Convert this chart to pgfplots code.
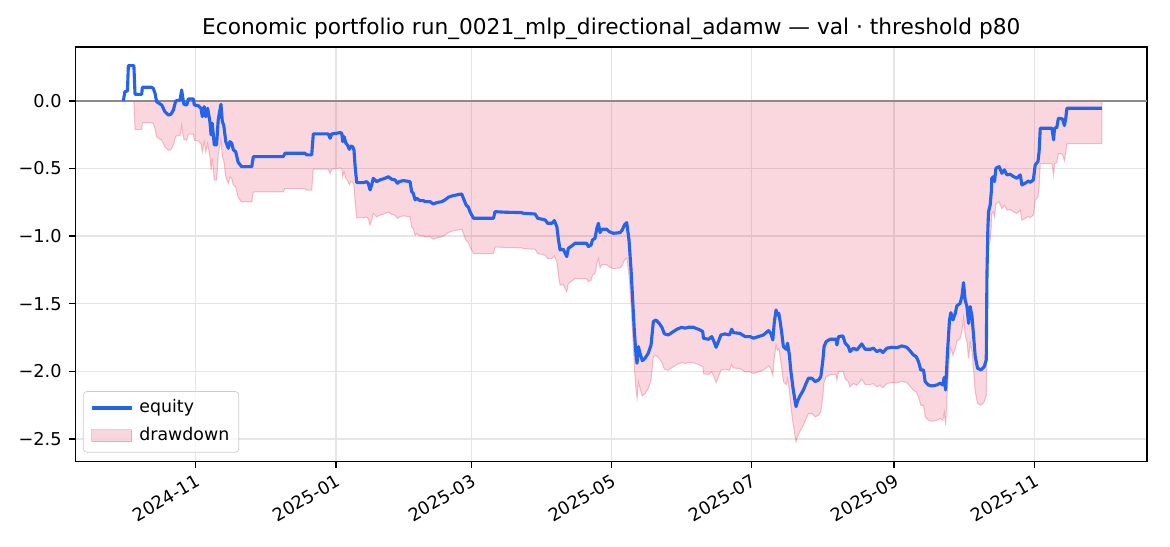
\documentclass[border=0pt]{standalone}
\usepackage{fontspec}
\setmainfont{DejaVu Sans}
\usepackage{pgfplots}
\usepackage{pgfplotstable}
\pgfplotsset{compat=1.18}

\definecolor{eqblue}{HTML}{2563EB}
\definecolor{rose}{HTML}{E11D48}

% day (0 = 2024-11-01), equity, drawdown
\pgfplotstableread{
d eq dd
-31.5 0.000 0
-30.8 0.069 0
-29.7 0.074 0
-29.3 0.261 0
-26.9 0.261 0
-26.4 0.049 -0.212
-23.5 0.049 -0.212
-23.2 0.101 -0.160
-19.2 0.101 -0.160
-18.5 0.094 -0.167
-17.7 0.057 -0.204
-17.0 -0.005 -0.266
-14.8 -0.030 -0.291
-13.4 -0.079 -0.340
-11.9 -0.104 -0.365
-10.8 -0.099 -0.360
-9.7 -0.067 -0.328
-8.7 0.000 -0.261
-6.8 0.007 -0.254
-6.1 0.081 -0.180
-5.7 0.032 -0.229
-5.1 -0.025 -0.286
-3.9 -0.030 -0.291
-3.2 0.015 -0.246
-1.0 0.015 -0.246
-0.6 -0.030 -0.291
1.1 -0.035 -0.296
2.3 -0.054 -0.315
2.9 -0.116 -0.377
3.7 -0.042 -0.303
4.4 -0.116 -0.377
5.2 -0.054 -0.315
6.2 -0.153 -0.414
6.7 -0.251 -0.512
7.2 -0.165 -0.426
8.1 -0.325 -0.586
9.1 -0.325 -0.586
9.8 -0.141 -0.402
11.0 -0.025 -0.286
11.6 -0.153 -0.414
12.2 -0.178 -0.439
13.1 -0.301 -0.562
14.2 -0.350 -0.611
14.9 -0.301 -0.562
15.7 -0.313 -0.574
16.4 -0.362 -0.623
17.4 -0.375 -0.636
18.5 -0.454 -0.715
20.0 -0.486 -0.747
24.4 -0.486 -0.747
25.1 -0.412 -0.673
38.1 -0.412 -0.673
38.9 -0.387 -0.648
47.6 -0.387 -0.648
48.3 -0.399 -0.660
50.5 -0.399 -0.660
51.2 -0.244 -0.505
57.7 -0.244 -0.505
58.5 -0.276 -0.537
59.2 -0.244 -0.505
61.4 -0.239 -0.500
62.8 -0.234 -0.495
63.6 -0.239 -0.500
64.0 -0.301 -0.562
64.6 -0.264 -0.525
65.4 -0.313 -0.574
66.0 -0.325 -0.586
66.9 -0.358 -0.619
67.5 -0.333 -0.594
68.3 -0.338 -0.599
68.9 -0.362 -0.623
69.4 -0.486 -0.747
70.1 -0.604 -0.865
73.0 -0.604 -0.865
74.4 -0.597 -0.858
75.1 -0.609 -0.870
75.9 -0.658 -0.919
76.6 -0.621 -0.882
77.3 -0.572 -0.833
78.8 -0.597 -0.858
80.2 -0.584 -0.845
82.4 -0.572 -0.833
83.8 -0.560 -0.821
85.3 -0.579 -0.840
86.8 -0.584 -0.845
87.8 -0.609 -0.870
88.6 -0.597 -0.858
90.4 -0.589 -0.850
93.3 -0.597 -0.858
94.0 -0.671 -0.932
94.7 -0.683 -0.944
95.5 -0.732 -0.993
96.2 -0.720 -0.981
97.6 -0.737 -0.998
99.1 -0.737 -0.998
99.8 -0.745 -1.006
102.0 -0.745 -1.006
103.4 -0.762 -1.023
104.9 -0.752 -1.013
107.1 -0.745 -1.006
108.5 -0.732 -0.993
110.0 -0.712 -0.973
111.5 -0.703 -0.964
113.6 -0.695 -0.956
115.8 -0.688 -0.949
116.8 -0.732 -0.993
117.7 -0.769 -1.030
118.7 -0.786 -1.047
119.4 -0.819 -1.080
120.9 -0.868 -1.129
129.6 -0.868 -1.129
130.3 -0.819 -1.080
134.7 -0.823 -1.084
141.9 -0.826 -1.087
142.6 -0.831 -1.092
147.7 -0.836 -1.097
148.9 -0.868 -1.129
152.1 -0.880 -1.141
153.2 -0.905 -1.166
155.0 -0.905 -1.166
156.1 -0.885 -1.146
157.2 -0.930 -1.191
157.9 -1.028 -1.289
158.6 -1.102 -1.363
160.0 -1.097 -1.358
160.8 -1.126 -1.387
161.5 -1.151 -1.412
162.2 -1.090 -1.351
163.7 -1.072 -1.333
165.1 -1.053 -1.314
170.2 -1.053 -1.314
170.9 -1.077 -1.338
172.1 -1.065 -1.326
172.7 -1.028 -1.289
173.8 -1.016 -1.277
174.6 -0.942 -1.203
175.3 -0.905 -1.166
176.0 -0.974 -1.235
176.8 -0.949 -1.210
178.9 -0.949 -1.210
179.9 -0.966 -1.227
181.8 -0.979 -1.240
184.7 -0.974 -1.235
185.7 -0.954 -1.215
186.6 -0.917 -1.178
187.6 -0.900 -1.161
188.6 -1.028 -1.289
189.5 -1.250 -1.511
190.2 -1.472 -1.733
190.9 -1.694 -1.955
191.7 -1.891 -2.152
192.1 -1.940 -2.201
192.7 -1.817 -2.078
193.4 -1.866 -2.127
194.4 -1.921 -2.182
195.6 -1.903 -2.164
197.0 -1.866 -2.127
198.2 -1.805 -2.066
199.2 -1.632 -1.893
200.3 -1.620 -1.881
201.7 -1.644 -1.905
202.9 -1.674 -1.935
204.0 -1.723 -1.984
205.7 -1.731 -1.992
207.9 -1.706 -1.967
209.4 -1.689 -1.950
211.6 -1.674 -1.935
213.0 -1.681 -1.942
214.5 -1.674 -1.935
216.6 -1.674 -1.935
218.8 -1.689 -1.950
219.5 -1.694 -1.955
220.7 -1.706 -1.967
221.0 -1.755 -2.016
223.2 -1.763 -2.024
224.6 -1.743 -2.004
225.6 -1.780 -2.041
226.5 -1.822 -2.083
227.5 -1.780 -2.041
228.6 -1.731 -1.992
230.4 -1.723 -1.984
232.3 -1.731 -1.992
233.3 -1.689 -1.950
234.0 -1.714 -1.975
236.9 -1.719 -1.980
239.1 -1.743 -2.004
241.3 -1.743 -2.004
242.8 -1.755 -2.016
244.9 -1.743 -2.004
247.1 -1.731 -1.992
249.3 -1.699 -1.960
250.3 -1.719 -1.980
251.2 -1.768 -2.029
251.8 -1.644 -1.905
252.6 -1.546 -1.807
253.2 -1.583 -1.844
253.8 -1.571 -1.832
254.4 -1.632 -1.893
255.1 -1.719 -1.980
255.8 -1.817 -2.078
257.0 -1.837 -2.098
257.6 -1.792 -2.053
258.4 -1.879 -2.140
259.0 -1.990 -2.251
259.9 -2.113 -2.374
260.8 -2.212 -2.473
261.3 -2.261 -2.522
261.9 -2.224 -2.485
262.8 -2.189 -2.450
264.5 -2.138 -2.399
265.7 -2.088 -2.349
266.7 -2.051 -2.312
268.2 -2.051 -2.312
269.6 -2.076 -2.337
271.1 -2.064 -2.325
272.1 -2.039 -2.300
273.0 -1.916 -2.177
273.5 -1.817 -2.078
274.4 -1.780 -2.041
276.1 -1.763 -2.024
278.7 -1.763 -2.024
279.1 -1.805 -2.066
279.8 -1.743 -2.004
281.7 -1.738 -1.999
282.7 -1.792 -2.053
284.1 -1.817 -2.078
284.8 -1.854 -2.115
286.3 -1.829 -2.090
287.8 -1.842 -2.103
289.9 -1.797 -2.058
291.4 -1.837 -2.098
293.6 -1.837 -2.098
295.0 -1.829 -2.090
296.5 -1.854 -2.115
297.9 -1.842 -2.103
299.1 -1.861 -2.122
300.8 -1.829 -2.090
303.0 -1.822 -2.083
305.2 -1.825 -2.086
307.3 -1.812 -2.073
309.5 -1.822 -2.083
311.0 -1.850 -2.111
312.4 -1.879 -2.140
313.6 -1.891 -2.152
314.6 -1.928 -2.189
315.6 -1.990 -2.251
316.8 -1.990 -2.251
317.5 -2.076 -2.337
318.9 -2.101 -2.362
320.4 -2.108 -2.369
322.6 -2.101 -2.362
324.0 -2.088 -2.349
325.2 -2.101 -2.362
325.8 -2.044 -2.305
326.4 -2.138 -2.399
327.2 -1.866 -2.127
328.1 -1.620 -1.881
328.7 -1.566 -1.827
329.6 -1.620 -1.881
330.6 -1.571 -1.832
331.3 -1.516 -1.777
332.7 -1.497 -1.758
333.5 -1.447 -1.708
334.2 -1.344 -1.605
334.9 -1.472 -1.733
335.7 -1.521 -1.782
336.4 -1.645 -1.906
337.1 -1.521 -1.782
337.9 -1.595 -1.856
338.6 -1.743 -2.004
339.3 -1.891 -2.152
340.3 -1.977 -2.238
341.8 -1.990 -2.251
343.2 -1.965 -2.226
344.1 -1.916 -2.177
344.4 -1.287 -1.548
344.8 -0.942 -1.203
345.1 -0.819 -1.080
345.8 -0.769 -1.030
346.3 -0.671 -0.932
346.5 -0.572 -0.833
347.2 -0.560 -0.821
347.7 -0.597 -0.858
348.3 -0.498 -0.759
349.7 -0.486 -0.747
350.9 -0.535 -0.796
352.0 -0.510 -0.771
353.1 -0.547 -0.808
354.5 -0.542 -0.803
356.0 -0.560 -0.821
357.4 -0.572 -0.833
358.9 -0.547 -0.808
359.6 -0.621 -0.882
361.0 -0.609 -0.870
362.5 -0.592 -0.853
363.2 -0.602 -0.863
364.6 -0.584 -0.845
365.4 -0.473 -0.734
366.6 -0.449 -0.710
367.1 -0.375 -0.636
367.6 -0.202 -0.463
372.7 -0.202 -0.463
373.4 -0.288 -0.549
373.8 -0.202 -0.463
374.8 -0.197 -0.458
375.5 -0.128 -0.389
377.3 -0.133 -0.394
378.1 -0.182 -0.443
378.7 -0.128 -0.389
379.2 -0.054 -0.315
394.4 -0.054 -0.315
}\eqdata

\begin{document}
\begin{tikzpicture}
\useasboundingbox (-43.5bp,-48.6bp) rectangle (630.4bp,265.9bp);
\begin{axis}[
  at={(0,0)}, anchor=south west,
  scale only axis, width=617.2bp, height=238.9bp,
  xmin=-52.3, xmax=414.1, ymin=-2.668, ymax=0.40,
  axis line style={line width=0.8bp, black},
  every tick/.style={line width=0.8bp, black},
  major tick length=3.5bp, tick align=outside,
  xtick pos=left, ytick pos=left,
  xtick={0,61,120,181,242,304,365},
  xticklabels={2024-11,2025-01,2025-03,2025-05,2025-07,2025-09,2025-11},
  ytick={-2.5,-2,-1.5,-1,-0.5,0},
  yticklabels={−2.5,−2.0,−1.5,−1.0,−0.5,0.0},
  grid=major, grid style={line width=0.8bp, black!10},
  tick label style={font=\fontsize{10.2bp}{12bp}\selectfont},
  yticklabel style={anchor=east, inner sep=0pt, xshift=-4.3bp},
  xticklabel style={rotate=30, anchor=north east, inner sep=0pt, yshift=-2.6bp, xshift=-2bp},
  title={Economic portfolio run\_0021\_mlp\_directional\_adamw — val · threshold p80},
  title style={at={(0.5,1)}, anchor=south, inner sep=0pt, yshift=-2bp, font=\fontsize{12.5bp}{14bp}\selectfont},
  legend style={at={(0,0)}, anchor=south west, xshift=4.3bp, yshift=5.2bp,
    draw=black!20, rounded corners=2bp, fill=white, fill opacity=0.8, text opacity=1,
    font=\fontsize{10bp}{12bp}\selectfont, inner xsep=4bp, inner ysep=3bp, row sep=3bp,
    column sep=2bp,
    nodes={text height=7.5bp, text depth=2.5bp, inner ysep=1.5bp, inner xsep=1.5bp}},
  legend cell align=left,
]
\addplot[forget plot, fill=rose, fill opacity=0.18, draw=rose, draw opacity=0.25, line width=0.6bp]
  table[x=d, y=dd] {\eqdata} \closedcycle;
\addplot[forget plot, black!45, line width=0.8bp] coordinates {(-52.3,0) (414.1,0)};
\addplot[forget plot, eqblue, line width=1.8bp, line join=round] table[x=d, y=eq] {\eqdata};

\addlegendimage{legend image code/.code={\draw[eqblue, line width=1.8bp, sharp corners] (0bp,0bp) -- (23bp,0bp);}}
\addlegendentry{equity}
\addlegendimage{legend image code/.code={\draw[sharp corners, fill=rose, fill opacity=0.18, draw=rose, draw opacity=0.25, line width=0.6bp] (0bp,-3.5bp) rectangle (23bp,3.5bp);}}
\addlegendentry{drawdown}
\end{axis}
\end{tikzpicture}
\end{document}
